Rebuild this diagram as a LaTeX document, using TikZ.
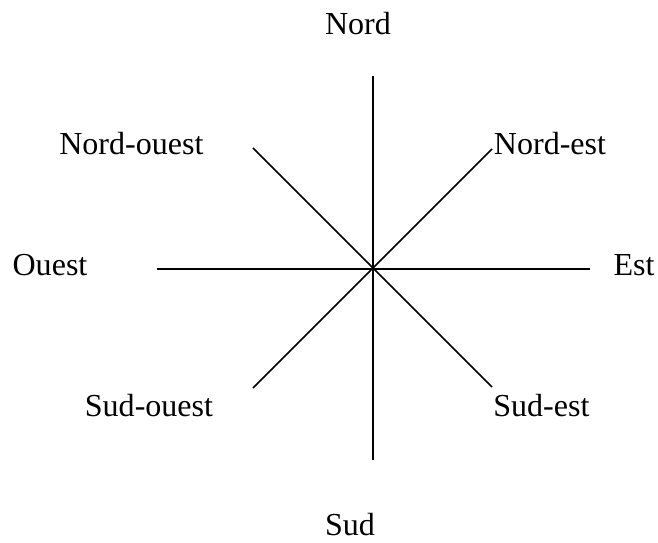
\documentclass[tikz,border=0pt]{standalone}
\usepackage{fontspec}
\setmainfont{Liberation Serif}

\begin{document}
\begin{tikzpicture}[
        font=\fontsize{22.8}{27}\selectfont,
        label/.style={inner sep=0pt},
        ray/.style={draw, line width=1.1pt}
      ]
      \useasboundingbox (-9.325, -6.85) rectangle (7.125, 6.725);

      % Centre and line ends
      \coordinate (o) at (0, 0);
      \coordinate (e_n) at (0, 4.825);
      \coordinate (e_s) at (0, -4.775);
      \coordinate (e_w) at (-5.4, 0);
      \coordinate (e_e) at (5.425, 0);
      \coordinate (e_ne) at (2.975, 3.0);
      \coordinate (e_nw) at (-3.0, 3.025);
      \coordinate (e_sw) at (-3.0, -2.975);
      \coordinate (e_se) at (2.975, -2.95);

      % Labels
      \node [label] (l_n) at (-0.375, 6.14) {Nord};
      \node [label] (l_nw) at (-6.04, 3.14) {Nord-ouest};
      \node [label] (l_ne) at (4.425, 3.14) {Nord-est};
      \node [label] (l_w) at (-8.075, 0.1) {Ouest};
      \node [label] (l_e) at (6.525, 0.1) {Est};
      \node [label] (l_sw) at (-5.6, -3.425) {Sud-ouest};
      \node [label] (l_se) at (4.21, -3.425) {Sud-est};
      \node [label] (l_s) at (-0.575, -6.38) {Sud};

      % Rays
      \path [ray] (e_n) -- (e_s);
      \path [ray] (e_w) -- (e_e);
      \path [ray] (e_nw) -- (e_se);
      \path [ray] (e_sw) -- (e_ne);

    \end{tikzpicture}
\end{document}
